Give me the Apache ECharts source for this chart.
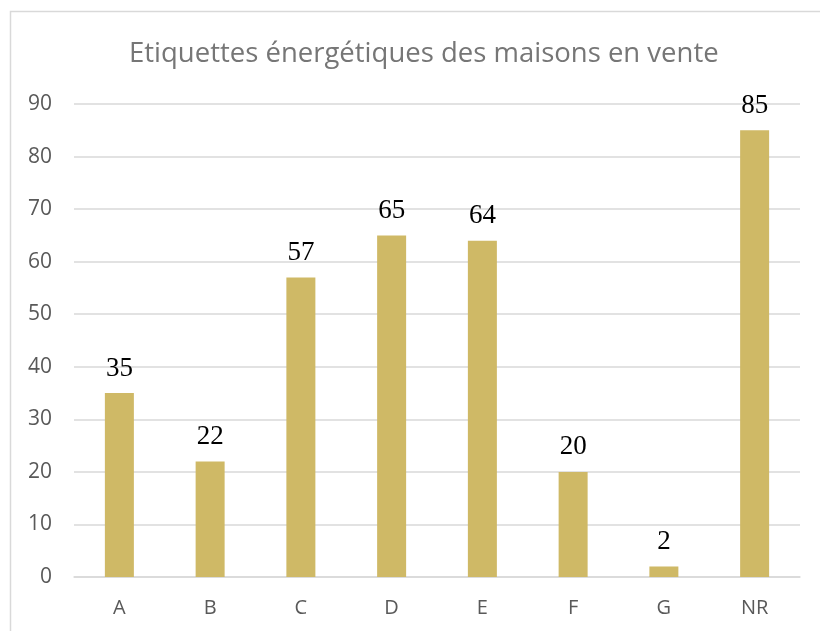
<!DOCTYPE html>
<html>
<head>
<meta charset="utf-8">
<script src="https://cdn.jsdelivr.net/npm/echarts@6/dist/echarts.min.js"></script>
<style>
  html, body { margin: 0; padding: 0; background: #fff; }
  #chart { width: 820px; height: 631px; }
</style>
</head>
<body>
<div id="chart"></div>
<script>
// chart data
const categories = ['A', 'B', 'C', 'D', 'E', 'F', 'G', 'NR'];
const counts = [35, 22, 57, 65, 64, 20, 2, 85];

const chart = echarts.init(document.getElementById('chart'));

const option = {
  animation: false,
  textStyle: { fontFamily: 'Open Sans' },
  title: {
    text: 'Etiquettes énergétiques des maisons en vente',
    left: 124,
    top: 35,
    textStyle: { color: '#767676', fontSize: 27.5, fontWeight: 'normal', fontFamily: 'Open Sans' },
  },
  graphic: [{
    type: 'rect',
    shape: { x: 10.5, y: 11.5, width: 830, height: 640 },
    style: { fill: 'none', stroke: '#d9d9d9', lineWidth: 1.5 },
  }],
  grid: { left: 74, right: 20, top: 104, bottom: 54 },
  xAxis: {
    type: 'category',
    data: categories,
    axisLine: { lineStyle: { color: '#d9d9d9', width: 1.5 } },
    axisTick: { show: false },
    axisLabel: { color: '#595959', fontSize: 20, margin: 21 },
  },
  yAxis: {
    type: 'value',
    min: 0,
    max: 90,
    interval: 10,
    axisLine: { show: false },
    axisTick: { show: false },
    splitLine: { lineStyle: { color: '#d9d9d9', width: 1.5 } },
    axisLabel: { color: '#595959', fontSize: 21, margin: 22 },
  },
  series: [{
    type: 'bar',
    data: counts,
    barWidth: 29,
    itemStyle: { color: '#cfb966' },
    label: {
      show: true,
      position: 'top',
      distance: 11,
      color: '#000',
      fontSize: 27,
      fontFamily: 'Liberation Serif',
    },
  }],
};

chart.setOption(option);
</script>
</body>
</html>
